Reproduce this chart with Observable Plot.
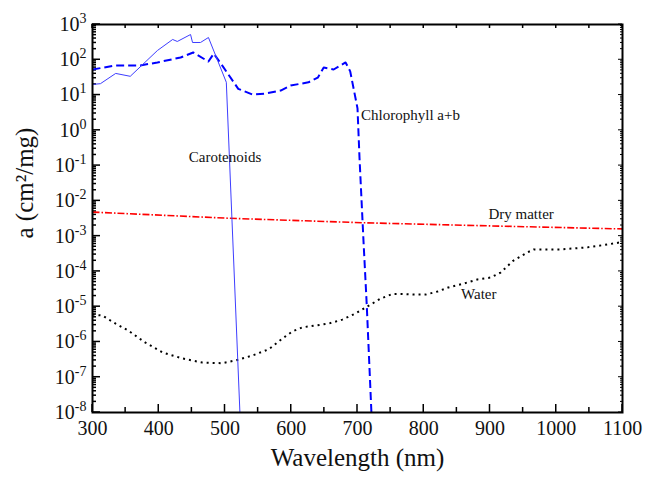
<!DOCTYPE html>
<html>
<head>
<meta charset="utf-8">
<script src="https://cdn.jsdelivr.net/npm/d3@7"></script>
<script src="https://cdn.jsdelivr.net/npm/@observablehq/plot@0.6"></script>
<style>
  html, body { margin: 0; padding: 0; background: #fff; }
</style>
</head>
<body>
<div id="chart"></div>
<script>
// ---- data ----
const carotenoidsNm  = [300, 312, 335, 357, 398, 421, 428, 448, 451, 463, 475, 502, 522.5];
const carotenoidsAbs = [20, 21, 41, 34, 183, 376, 330, 520, 309, 309, 428, 23, 1e-8];

const chlorophyllNm  = [300, 335, 372, 398, 433, 452, 475, 483, 498, 520, 541, 561, 584, 599, 626, 640, 649, 664, 682, 689, 700, 703, 709, 714, 721];
const chlorophyllAbs = [53, 69, 69, 84, 116, 161, 89, 150, 60, 15, 10.4, 11, 13.4, 18.6, 23, 31, 60, 53, 84, 47, 4.2, 0.17, 7.6e-4, 1.07e-5, 1e-8];

const waterNm  = [300, 315, 335, 354, 380, 406, 436, 466, 496, 516, 541, 566, 587, 602, 617, 656, 677, 697, 717, 735, 753, 768, 785, 803, 821, 837, 860, 881, 901, 916, 935, 957, 966, 1006, 1047, 1077, 1100];
const waterAbs = [6.0e-6, 5.6e-6, 3.3e-6, 2.1e-6, 9.5e-7, 5.0e-7, 3.4e-7, 2.6e-7, 2.5e-7, 3.0e-7, 4.1e-7, 6.2e-7, 1.26e-6, 2.0e-6, 2.6e-6, 3.3e-6, 4.3e-6, 6.4e-6, 1.07e-5, 1.7e-5, 2.3e-5, 2.3e-5, 2.2e-5, 2.2e-5, 2.7e-5, 3.5e-5, 4.5e-5, 5.9e-5, 6.7e-5, 9.3e-5, 2.0e-4, 3.5e-4, 4.2e-4, 4.2e-4, 4.8e-4, 5.8e-4, 6.8e-4];

const dryMatterNm  = [300, 508, 707, 900, 1100];
const dryMatterAbs = [4.8e-3, 3.2e-3, 2.4e-3, 1.95e-3, 1.6e-3];

const labelNames = ["Carotenoids", "Chlorophyll a+b", "Dry matter", "Water"];
const labelNm    = [500, 780, 947, 883];
const labelAbs   = [0.17, 2.6, 4.1e-3, 2.3e-5];

const xMajorTicks = [300, 400, 500, 600, 700, 800, 900, 1000, 1100];
const xMinorTicks = [350, 450, 550, 650, 750, 850, 950, 1050];
const yExponents  = [3, 2, 1, 0, -1, -2, -3, -4, -5, -6, -7, -8];

// ---- build tables ----
const toRows = (xs, ys) => xs.map((x, i) => ({x, y: ys[i]}));
const carotenoids = toRows(carotenoidsNm, carotenoidsAbs);
const chlorophyll = toRows(chlorophyllNm, chlorophyllAbs);
const water = toRows(waterNm, waterAbs);
const dryMatter = toRows(dryMatterNm, dryMatterAbs);
const labels = labelNames.map((t, i) => ({t, x: labelNm[i], y: labelAbs[i]}));

const yMajorTicks = yExponents.map(e => Math.pow(10, e));
const yMinorTicks = [];
for (const e of yExponents.slice(1)) for (let m = 2; m <= 9; m++) yMinorTicks.push(m * Math.pow(10, e));
const xAllTicks = d3.range(300, 1101, 50);

const W = 645, H = 481, ML = 92, MR = 23, MT = 24, MB = 69;
const FW = W - ML - MR, FH = H - MT - MB;   // frame size in px
const font = "Liberation Serif, Times New Roman, serif";
const ink = "#000";

// inward ticks as thin filled rects, sized through insets
const bottomTick = (data, len, w = 1.5) => Plot.rect(data, {x1: d => d, x2: d => d, insetLeft: -w / 2, insetRight: -w / 2, insetTop: FH - len, fill: ink});
const topTick    = (data, len, w = 1.5) => Plot.rect(data, {x1: d => d, x2: d => d, insetLeft: -w / 2, insetRight: -w / 2, insetBottom: FH - len, fill: ink});
const leftTick   = (data, len, w = 1.5) => Plot.rect(data, {y1: d => d, y2: d => d, insetTop: -w / 2, insetBottom: -w / 2, insetRight: FW - len, fill: ink});
const rightTick  = (data, len, w = 1)   => Plot.rect(data, {y1: d => d, y2: d => d, insetTop: -w / 2, insetBottom: -w / 2, insetLeft: FW - len, fill: ink});

const plot = Plot.plot({
  width: W,
  height: H,
  marginLeft: ML,
  marginRight: MR,
  marginTop: MT,
  marginBottom: MB,
  style: {fontFamily: font, background: "#fff", color: ink},
  x: {domain: [300, 1100]},
  y: {type: "log", domain: [1e-8, 1e3]},
  marks: [
    // tick labels
    Plot.axisX({ticks: xMajorTicks, tickSize: 0, tickPadding: 8, fontSize: 20, tickFormat: d => String(d), label: null, fill: "#111"}),
    Plot.axisY({ticks: yMajorTicks, tickSize: 0, tickPadding: 6, fontSize: 20, tickFormat: d => "10^" + Math.round(Math.log10(d)), label: null, fill: "#111"}),
    // inward ticks
    bottomTick(xMajorTicks, 8),
    bottomTick(xMinorTicks, 5),
    topTick(xAllTicks, 4),
    leftTick(yMajorTicks, 8),
    leftTick(yMinorTicks, 4),
    rightTick(yMajorTicks, 4),
    rightTick(yMinorTicks, 2),
    // series
    Plot.line(dryMatter, {x: "x", y: "y", stroke: "#ff0000", strokeWidth: 1.6, strokeDasharray: "7,2,1.5,2", strokeLinecap: "butt", clip: true}),
    Plot.line(water, {x: "x", y: "y", stroke: "#000", strokeWidth: 2, strokeDasharray: "2,4", strokeLinecap: "butt", clip: true}),
    Plot.line(chlorophyll, {x: "x", y: "y", stroke: "#0000ff", strokeWidth: 2, strokeDasharray: "8,4", strokeLinecap: "butt", clip: true}),
    Plot.line(carotenoids, {x: "x", y: "y", stroke: "#3d3dff", strokeWidth: 1, clip: true}),
    // series labels
    Plot.text(labels, {x: "x", y: "y", text: "t", fontSize: 15, fill: "#111"}),
    // axis titles
    Plot.text(["Wavelength (nm)"], {frameAnchor: "bottom", dy: 53, fontSize: 25, fill: "#111"}),
    Plot.text(["a (cm²/mg)"], {frameAnchor: "left", dx: -68, dy: 20, rotate: -90, fontSize: 25, fill: "#111"}),
    Plot.frame({stroke: ink, strokeWidth: 2})
  ]
});

// superscript exponents on the y tick labels
plot.querySelectorAll('g[aria-label="y-axis tick label"] text').forEach(t => {
  const s = t.textContent;
  if (!s.startsWith("10^")) return;
  const exp = s.slice(3);
  t.textContent = "10";
  const ts = document.createElementNS("http://www.w3.org/2000/svg", "tspan");
  ts.setAttribute("dy", "-8");
  ts.setAttribute("font-size", "14");
  ts.textContent = exp;
  t.appendChild(ts);
});

document.getElementById("chart").appendChild(plot);
</script>
</body>
</html>
